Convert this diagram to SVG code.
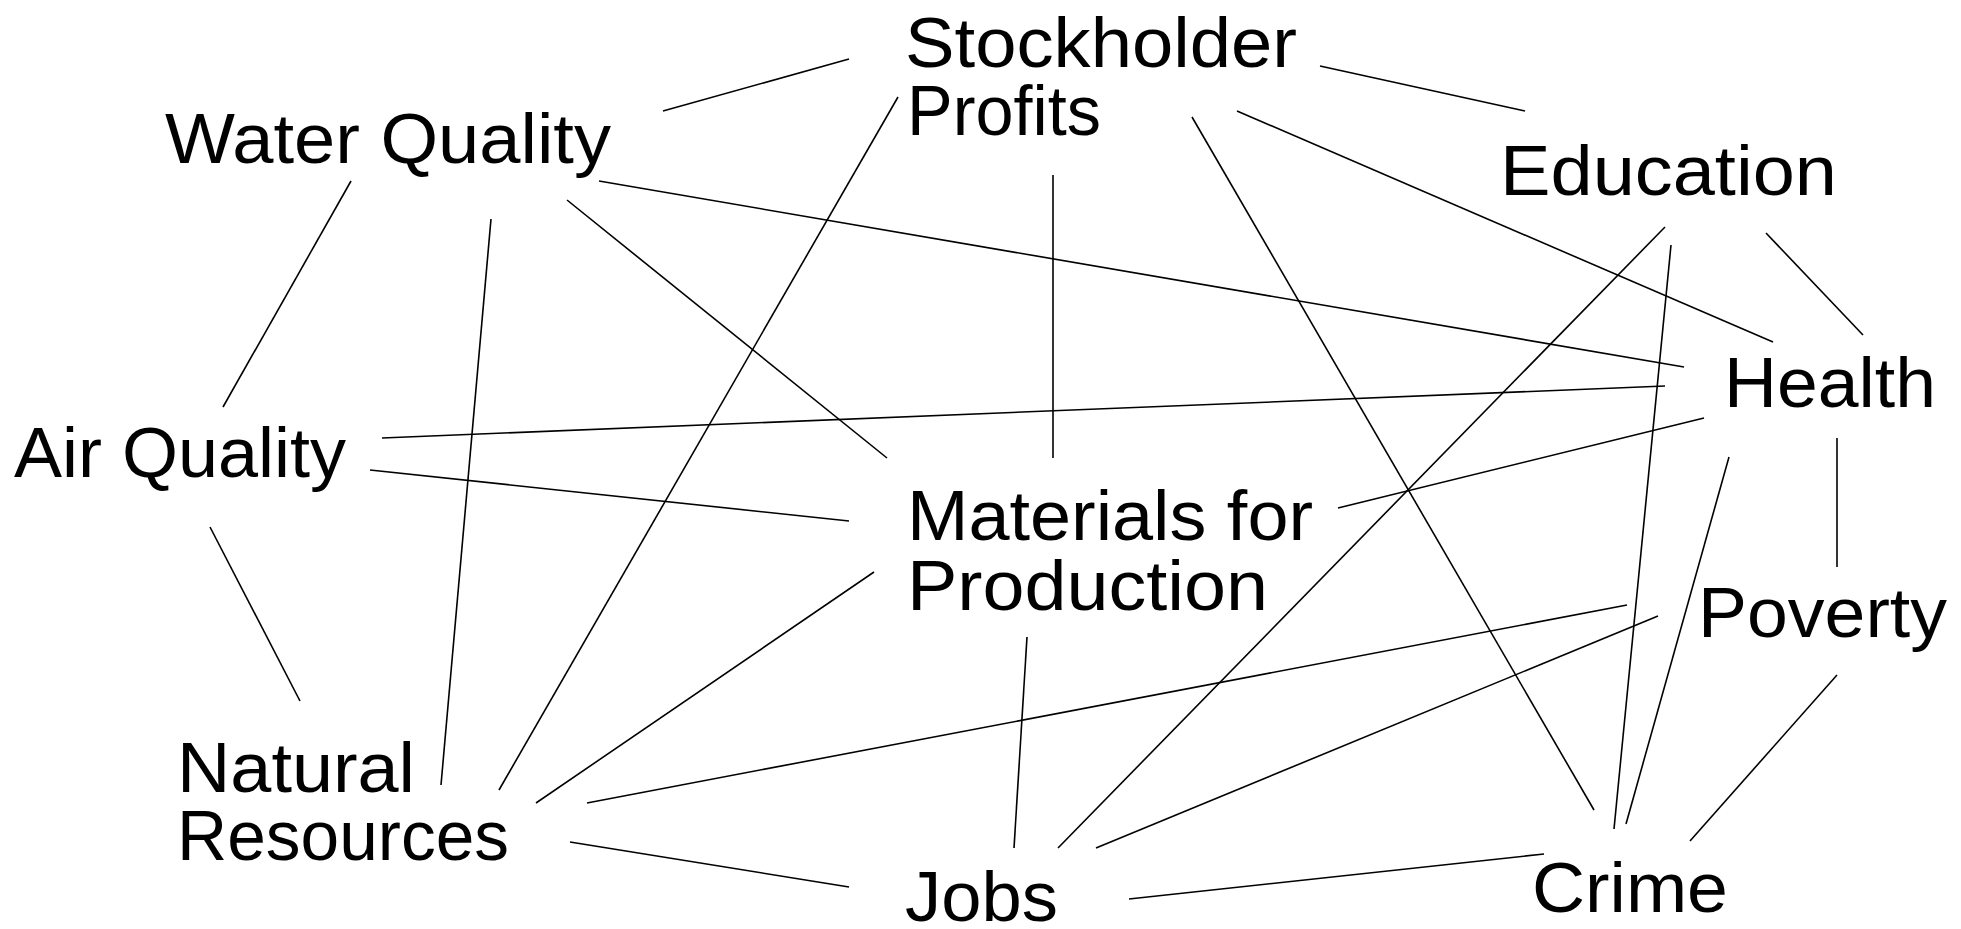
<svg xmlns="http://www.w3.org/2000/svg" width="1961" height="929" viewBox="0 0 1961 929">
  <style>
    .bg { fill: #ffffff; }
    .label { font-family: "Liberation Sans", "DejaVu Sans", sans-serif; font-size: 70px; fill: #000000; }
    .edges line { stroke: #000000; stroke-width: 1.6; stroke-linecap: butt; }
  </style>
  <rect class="bg" x="0" y="0" width="1961" height="929"/>

  <!-- connectors between topics -->
  <g id="connectors" class="edges">
    <line x1="663" y1="111" x2="849" y2="59"/>
    <line x1="1320" y1="66" x2="1525" y2="111"/>
    <line x1="898" y1="97" x2="499" y2="790"/>
    <line x1="1053" y1="175" x2="1053" y2="458"/>
    <line x1="1192" y1="117" x2="1594" y2="810"/>
    <line x1="1237" y1="111" x2="1773" y2="342"/>
    <line x1="599" y1="181" x2="1684" y2="367"/>
    <line x1="351" y1="181" x2="223" y2="407"/>
    <line x1="491" y1="219" x2="441" y2="785"/>
    <line x1="567" y1="200" x2="887" y2="458"/>
    <line x1="382" y1="438" x2="1665" y2="386"/>
    <line x1="370" y1="470" x2="849" y2="521"/>
    <line x1="210" y1="527" x2="300" y2="701"/>
    <line x1="874" y1="572" x2="536" y2="803"/>
    <line x1="1338" y1="508" x2="1704" y2="418"/>
    <line x1="1027" y1="637" x2="1014" y2="848"/>
    <line x1="1665" y1="227" x2="1058" y2="848"/>
    <line x1="1671" y1="245" x2="1614" y2="829"/>
    <line x1="1766" y1="233" x2="1863" y2="335"/>
    <line x1="1837" y1="438" x2="1837" y2="567"/>
    <line x1="1729" y1="457" x2="1626" y2="824"/>
    <line x1="1627" y1="605" x2="587" y2="803"/>
    <line x1="1658" y1="616" x2="1096" y2="848"/>
    <line x1="1837" y1="675" x2="1690" y2="841"/>
    <line x1="570" y1="842" x2="849" y2="887"/>
    <line x1="1129" y1="899" x2="1544" y2="854"/>
  </g>

  <!-- topic labels -->
  <g id="node-stockholder-profits">
    <text class="label" x="905" y="67" textLength="392" lengthAdjust="spacingAndGlyphs">Stockholder</text>
    <text class="label" x="907" y="135" textLength="194" lengthAdjust="spacingAndGlyphs">Profits</text>
  </g>
  <g id="node-water-quality">
    <text class="label" x="165" y="163" textLength="446" lengthAdjust="spacingAndGlyphs">Water Quality</text>
  </g>
  <g id="node-education">
    <text class="label" x="1500" y="195" textLength="337" lengthAdjust="spacingAndGlyphs">Education</text>
  </g>
  <g id="node-health">
    <text class="label" x="1724" y="407" textLength="212" lengthAdjust="spacingAndGlyphs">Health</text>
  </g>
  <g id="node-air-quality">
    <text class="label" x="14" y="477" textLength="332" lengthAdjust="spacingAndGlyphs">Air Quality</text>
  </g>
  <g id="node-materials-for-production">
    <text class="label" x="907" y="540" textLength="406" lengthAdjust="spacingAndGlyphs">Materials for</text>
    <text class="label" x="907" y="610" textLength="361" lengthAdjust="spacingAndGlyphs">Production</text>
  </g>
  <g id="node-poverty">
    <text class="label" x="1698" y="637" textLength="249" lengthAdjust="spacingAndGlyphs">Poverty</text>
  </g>
  <g id="node-natural-resources">
    <text class="label" x="177" y="792" textLength="238" lengthAdjust="spacingAndGlyphs">Natural</text>
    <text class="label" x="177" y="860" textLength="332" lengthAdjust="spacingAndGlyphs">Resources</text>
  </g>
  <g id="node-crime">
    <text class="label" x="1532" y="912" textLength="196" lengthAdjust="spacingAndGlyphs">Crime</text>
  </g>
  <g id="node-jobs">
    <text class="label" x="905" y="921" textLength="153" lengthAdjust="spacingAndGlyphs">Jobs</text>
  </g>
</svg>
